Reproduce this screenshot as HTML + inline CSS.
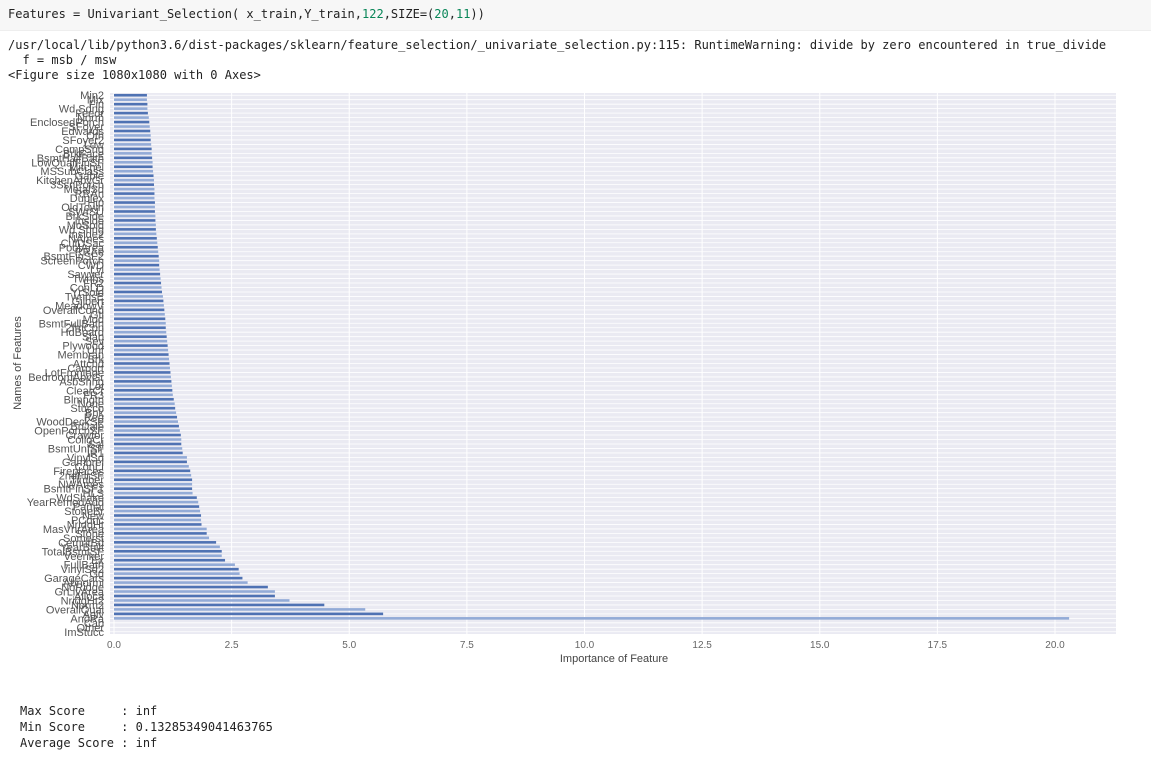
<!DOCTYPE html>
<html><head><meta charset="utf-8">
<style>
body{margin:0;width:1151px;height:763px;background:#fff;overflow:hidden;position:relative;font-family:"DejaVu Sans Mono","Liberation Mono",monospace;}
.code{position:absolute;left:0;top:0;width:1151px;height:30px;background:#f7f7f7;border-bottom:1px solid #eee;}
.t{position:absolute;font-size:12px;color:#222;white-space:pre;}
</style></head><body>
<div class="code"></div>
<div class="t" style="left:8px;top:7px">Features = Univariant_Selection( x_train,Y_train,<span style="color:#098658">122</span>,SIZE=(<span style="color:#098658">20</span>,<span style="color:#098658">11</span>))</div>
<div class="t" style="left:8px;top:38px">/usr/local/lib/python3.6/dist-packages/sklearn/feature_selection/_univariate_selection.py:115: RuntimeWarning: divide by zero encountered in true_divide</div>
<div class="t" style="left:8px;top:53px">  f = msb / msw</div>
<div class="t" style="left:8px;top:68px">&lt;Figure size 1080x1080 with 0 Axes&gt;</div>
<div class="t" style="left:20px;top:704px">Max Score     : inf</div>
<div class="t" style="left:20px;top:720px">Min Score     : 0.13285349041463765</div>
<div class="t" style="left:20px;top:736px">Average Score : inf</div>
<svg id="chart" width="1151" height="763" style="position:absolute;left:0;top:0"></svg>
<script>
const categories = ["Min2","Mix","Fin","Wd Sdng","Feedr","Norm","EnclosedPorch","SFoyer","Edwards","Oth","SFoyer2","Low","CompShg","BrkFace","BsmtHalfBath","LowQualFinSF","Mitchel","MSSubClass","Gable","KitchenAbvGr","3SsnPorch","MetalSd","RRAn","Duplex","Hip","OldTown","SWISU","BrkSide","Inside","MoSold","Wd Shng","Inside2","NAmes","CulDSac","PoolArea","RRAe","BsmtFinSF2","ScreenPorch","CWD","Lvl","Sawyer","Twnhs","FR2","ConLD","YrSold","TwnhsE","Gilbert","MeadowV","OverallCond","Gtl","Mod","BsmtFullBath","2fmCon","HdBoard","Slab","Sev","Plywood","Unf","Membran","Brk","Attchd","Carport","LotFrontage","BedroomAbvGr","AsbShng","Lot","ClearCr","FR3","Blmngtn","None","Stucco","Bnk","Reg","WoodDeckSF","BrDale","OpenPorchSF","Crawfor","CollgCr","Sal","BsmtUnfSF","IR1","VinylSd","Gambrel","ConLI","Fireplaces","2ndFlrSF","Timber","NWAmes","BsmtFinSF1","HLS","WdShake","YearRemodAdd","Partial","StoneBr","New","PConc","NridgHt","MasVnrArea","Stone","Somerst","CemntBd","YearBuilt","TotalBsmtSF","Veenker","Ex","FullBath","VinylSd2","Gd","GarageCars","Abnorml","NoRidge","GrLivArea","Alloca","NridgHt2","Norm2","OverallQual","Aglv","AnoRa","Cab","Other","ImStucc"];
const values = [0.70,0.70,0.71,0.71,0.72,0.74,0.75,0.76,0.77,0.78,
0.78,0.79,0.80,0.80,0.81,0.82,0.82,0.83,0.84,0.85,
0.85,0.86,0.86,0.86,0.87,0.87,0.87,0.88,0.88,0.89,
0.89,0.90,0.91,0.92,0.93,0.94,0.95,0.96,0.96,0.97,
0.98,0.99,1.00,1.01,1.02,1.04,1.05,1.06,1.07,1.08,
1.09,1.10,1.10,1.11,1.12,1.13,1.14,1.15,1.16,1.17,
1.18,1.19,1.20,1.21,1.22,1.23,1.24,1.25,1.27,1.29,
1.30,1.32,1.34,1.36,1.38,1.40,
1.42,1.43,1.43,1.45,1.46,1.55,1.55,1.59,1.62,1.64,
1.66,1.66,1.66,1.67,1.76,1.79,1.81,1.83,1.85,1.85,
1.86,1.97,1.97,2.02,2.17,2.25,2.29,2.29,2.36,2.57,
2.65,2.67,2.73,2.84,3.27,3.42,3.42,3.73,4.47,5.34,
5.72,20.3,0,0,0,0];
const xTicks = [0,2.5,5,7.5,10,12.5,15,17.5,20];
const xTickLabels = ["0.0","2.5","5.0","7.5","10.0","12.5","15.0","17.5","20.0"];

const NS="http://www.w3.org/2000/svg";
const svg=document.getElementById('chart');
const L=110,R=1116,T=93,B=634;
const x0=114, pxPer=47.05;
const xs=v=>x0+v*pxPer;
const n=categories.length;
const rowH=(B-T)/n;
const ys=i=>T+rowH*(i+0.5);
function mk(tag,attrs){const e=document.createElementNS(NS,tag);for(const k in attrs)e.setAttribute(k,attrs[k]);svg.appendChild(e);return e;}
const bg=mk('rect',{x:L,y:T,width:R-L,height:B-T,fill:'#eaeaf2'});


for(let i=0;i<n;i++){
  const g=mk('line',{x1:L,x2:R,y1:ys(i),y2:ys(i),stroke:'#fff','stroke-width':0.8});
  
  
}
xTicks.forEach((t,k)=>{
  const g=mk('line',{x1:xs(t),x2:xs(t),y1:T,y2:B,stroke:'#fff','stroke-width':1});
  
  
  const tx=mk('text',{x:xs(t),y:648,'text-anchor':'middle','font-size':'10','font-family':'Liberation Sans, sans-serif',fill:'#666'});
  tx.textContent=xTickLabels[k];
  
  
});
for(let i=0;i<n;i++){
  const r=mk('rect',{x:xs(0),y:ys(i)-1.3,width:Math.max(0,xs(values[i])-xs(0)),height:2.6,fill:(i%2?'#93abd7':'#4f72b3')});
  
  
  const tx=mk('text',{x:104,y:ys(i)+4,'text-anchor':'end','font-size':'11','font-family':'Liberation Sans, sans-serif',fill:'#555'});
  tx.textContent=categories[i];
  
  
}
const xl=mk('text',{x:614,y:662,'text-anchor':'middle','font-size':'11','font-family':'Liberation Sans, sans-serif',fill:'#444'});
xl.textContent='Importance of Feature';


const yl=mk('text',{x:21,y:363,'text-anchor':'middle','font-size':'11','font-family':'Liberation Sans, sans-serif',fill:'#444',transform:'rotate(-90 21 363)'});
yl.textContent='Names of Features';


</script>
</body></html>
